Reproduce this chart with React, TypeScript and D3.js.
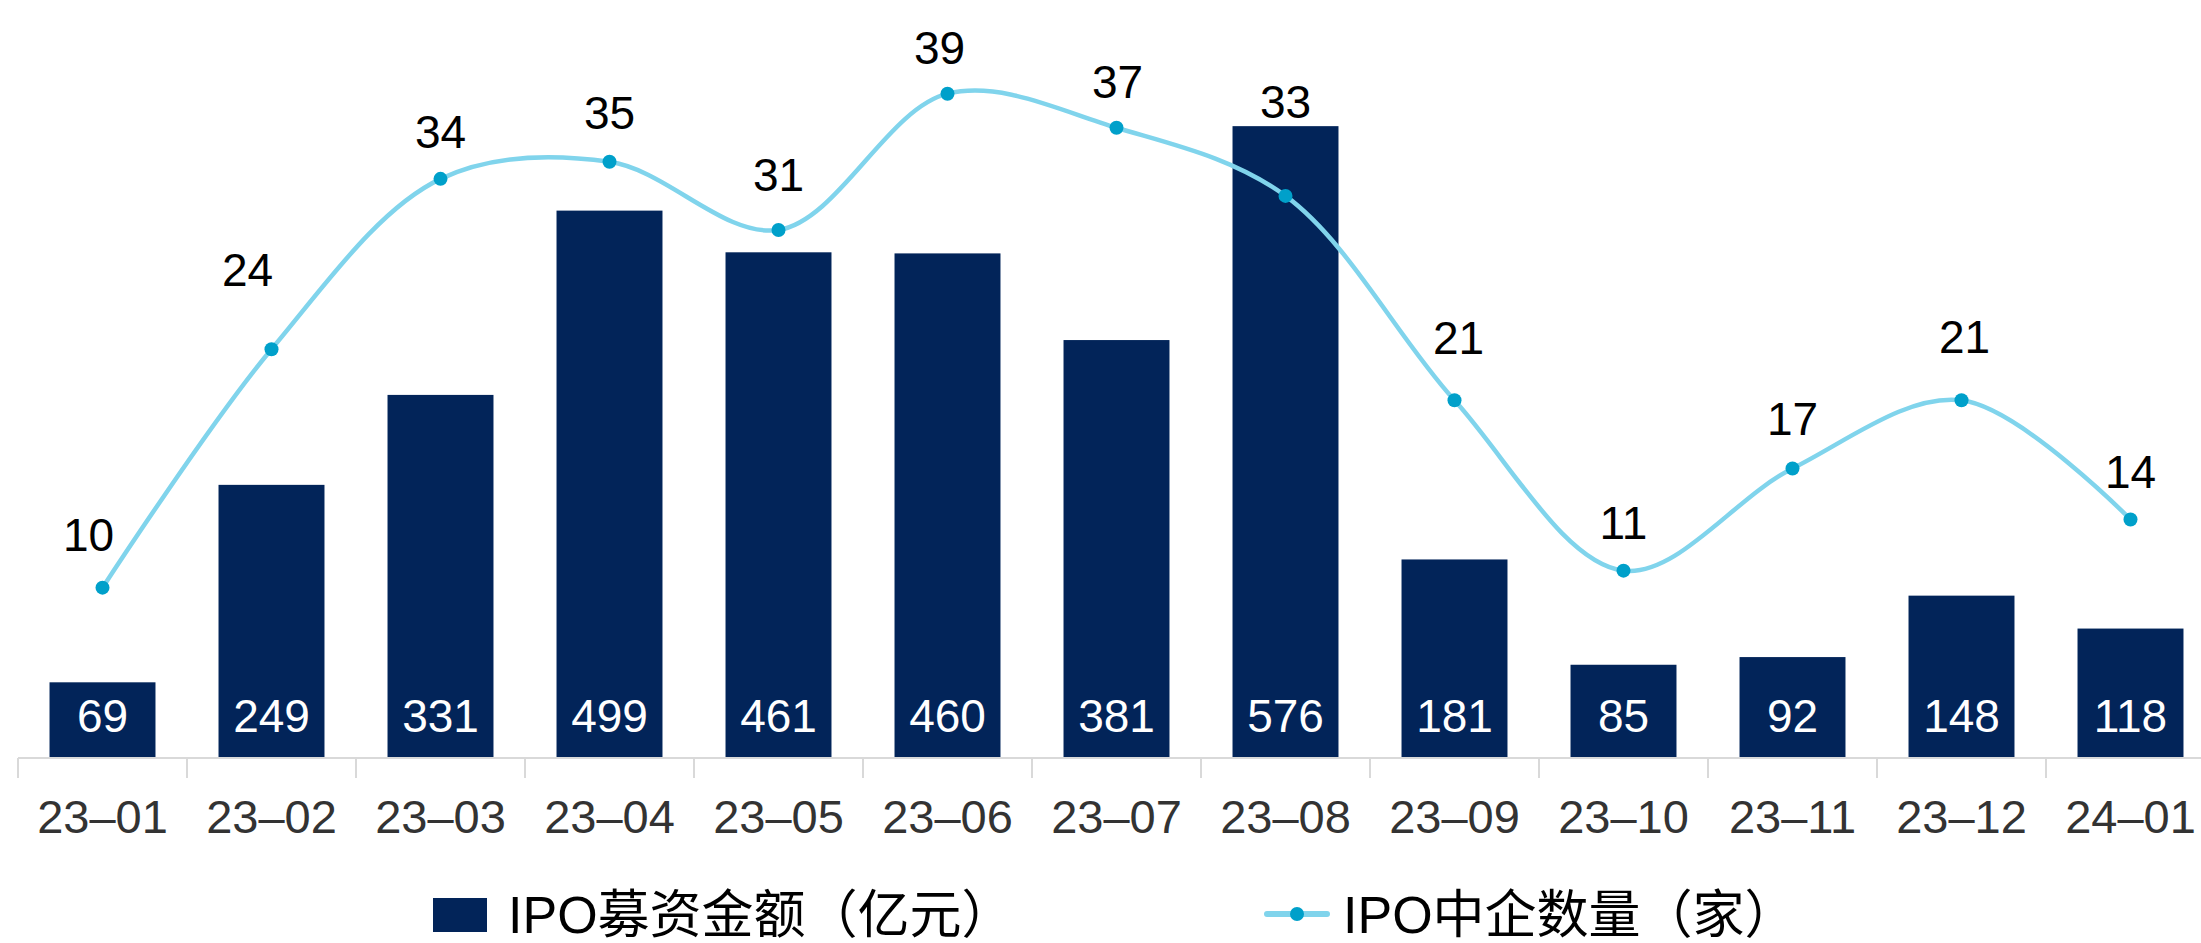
import React, { useEffect, useRef } from "react";
import * as d3 from "d3";

// months on the x axis
const months = ["23–01", "23–02", "23–03", "23–04", "23–05", "23–06", "23–07", "23–08", "23–09", "23–10", "23–11", "23–12", "24–01"];
// IPO募资金额（亿元）
const raised = [69, 249, 331, 499, 461, 460, 381, 576, 181, 85, 92, 148, 118];
// IPO中企数量（家）
const counts = [10, 24, 34, 35, 31, 39, 37, 33, 21, 11, 17, 21, 14];

const legendBar = "IPO募资金额（亿元）";
const legendLine = "IPO中企数量（家）";

// hand placed label nudges, like in the original sheet
const labelDx = [-14, -24, 0, 0, 0, -8, 1, 0, 4, 0, 0, 3, 0];
const labelLift = [37, 63, 31, 33, 39, 30, 30, 78, 46, 32, 33, 47, 32];

const W = 2201;
const H = 943;
const BAR = "#022459";
const LINE = "#80d4ec";
const DOT = "#00a0ca";
const LATIN = "'Liberation Sans', Arial, Helvetica, sans-serif";
const MIXED = "'Liberation Sans', Arial, 'Noto Sans CJK SC', sans-serif";

export default function App() {
  const ref = useRef<SVGSVGElement>(null);

  useEffect(() => {
    document.body.style.margin = "0";
    const svg = d3.select(ref.current);
    svg.selectAll("*").remove();

    const baseY = 758;
    const left = 18;
    const step = 169;

    // bars fill ~63% of each month slot
    const x = d3.scaleBand<string>()
      .domain(months)
      .range([left, left + step * months.length])
      .paddingInner(0.373)
      .paddingOuter(0.1865);
    const slot = d3.scaleBand<string>()
      .domain(months)
      .range([left, left + step * months.length]);

    const y = d3.scaleLinear().domain([0, 691]).range([baseY, 0]);
    const y2 = d3.scaleLinear().domain([0, 44.5]).range([baseY, 0]);
    const cx = (i: number) => (x(months[i]) as number) + x.bandwidth() / 2;

    // bars
    svg.append("g").selectAll("rect")
      .data(raised)
      .join("rect")
      .attr("x", (d, i) => x(months[i]) as number)
      .attr("y", d => y(d))
      .attr("width", x.bandwidth())
      .attr("height", d => baseY - y(d))
      .attr("fill", BAR);

    // bar value labels, sitting at the bottom of each bar
    svg.append("g").selectAll("text")
      .data(raised)
      .join("text")
      .attr("x", (d, i) => cx(i))
      .attr("y", baseY - 26)
      .attr("text-anchor", "middle")
      .attr("fill", "#fff")
      .style("font-family", LATIN)
      .style("font-size", "46px")
      .text(d => d);

    // x axis: baseline plus ticks between months
    const axis = svg.append("g");
    axis.append("line")
      .attr("x1", left).attr("x2", W)
      .attr("y1", baseY).attr("y2", baseY)
      .attr("stroke", "#d9d9d9").attr("stroke-width", 2);
    axis.selectAll("line.tick")
      .data(months)
      .join("line")
      .attr("class", "tick")
      .attr("x1", d => slot(d) as number).attr("x2", d => slot(d) as number)
      .attr("y1", baseY).attr("y2", baseY + 20)
      .attr("stroke", "#d9d9d9").attr("stroke-width", 2);
    axis.selectAll("text")
      .data(months)
      .join("text")
      .attr("x", d => (slot(d) as number) + slot.bandwidth() / 2)
      .attr("y", 833)
      .attr("text-anchor", "middle")
      .attr("fill", "#333")
      .style("font-family", LATIN)
      .style("font-size", "47px")
      .text(d => d);

    // smooth line for counts
    const line = d3.line<number>()
      .x((d, i) => cx(i))
      .y(d => y2(d))
      .curve(d3.curveCatmullRom.alpha(0.5));
    svg.append("path")
      .datum(counts)
      .attr("d", line)
      .attr("fill", "none")
      .attr("stroke", LINE)
      .attr("stroke-width", 4.5);
    svg.append("g").selectAll("circle")
      .data(counts)
      .join("circle")
      .attr("cx", (d, i) => cx(i))
      .attr("cy", d => y2(d))
      .attr("r", 7)
      .attr("fill", DOT);
    svg.append("g").selectAll("text")
      .data(counts)
      .join("text")
      .attr("x", (d, i) => cx(i) + labelDx[i])
      .attr("y", (d, i) => y2(d) - labelLift[i])
      .attr("text-anchor", "middle")
      .attr("fill", "#000")
      .style("font-family", LATIN)
      .style("font-size", "46px")
      .text(d => d);

    // legend
    const lg = svg.append("g");
    lg.append("rect")
      .attr("x", 433).attr("y", 898)
      .attr("width", 54).attr("height", 34)
      .attr("fill", BAR);
    lg.append("text")
      .attr("x", 508).attr("y", 933)
      .attr("fill", "#000")
      .style("font-family", MIXED)
      .style("font-size", "52px")
      .text(legendBar);
    lg.append("line")
      .attr("x1", 1267).attr("x2", 1327)
      .attr("y1", 914).attr("y2", 914)
      .attr("stroke", LINE).attr("stroke-width", 6)
      .attr("stroke-linecap", "round");
    lg.append("circle")
      .attr("cx", 1297).attr("cy", 914).attr("r", 7)
      .attr("fill", DOT);
    lg.append("text")
      .attr("x", 1343).attr("y", 933)
      .attr("fill", "#000")
      .style("font-family", MIXED)
      .style("font-size", "52px")
      .text(legendLine);
  }, []);

  return (
    <svg ref={ref} width={W} height={H} style={{ display: "block", background: "#fff" }} />
  );
}
